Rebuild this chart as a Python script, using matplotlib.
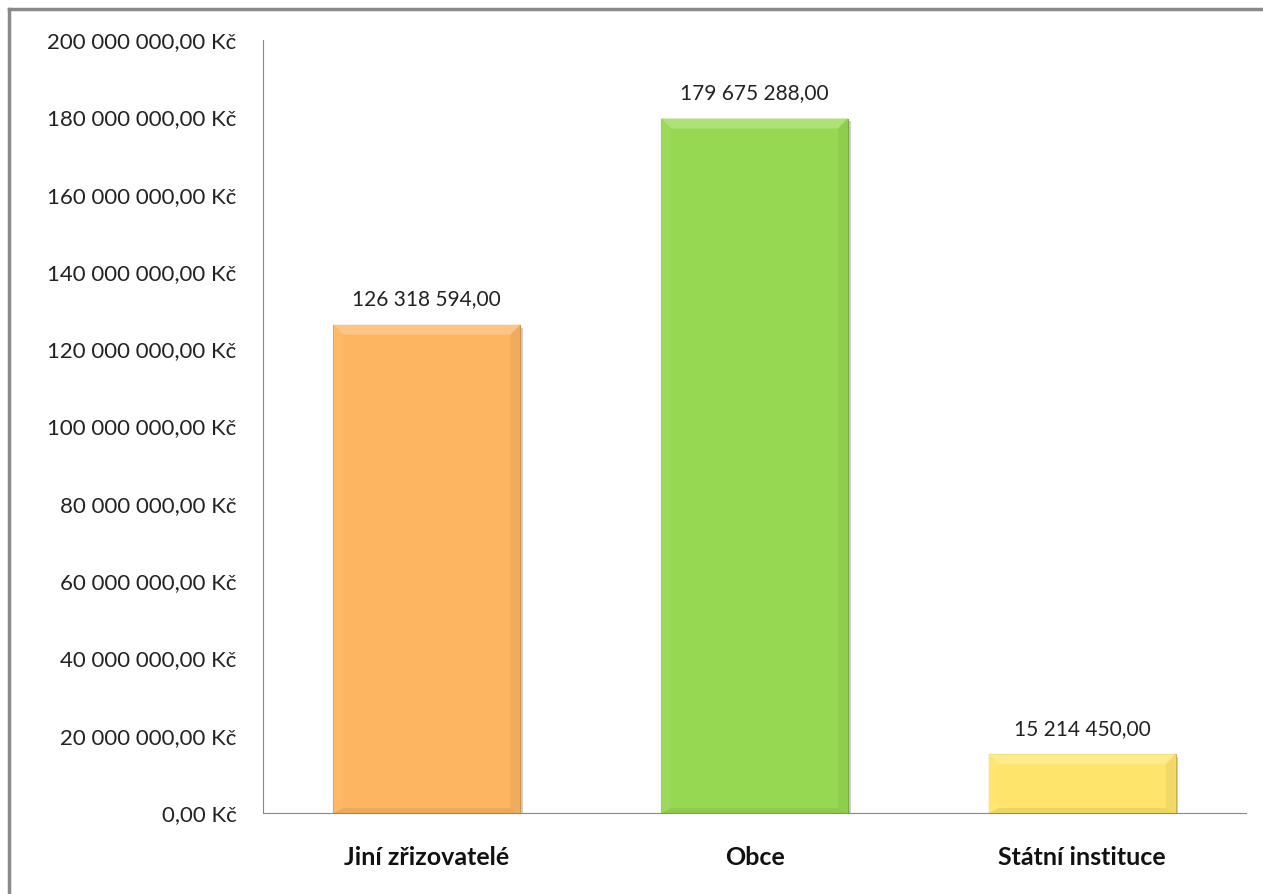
import matplotlib.pyplot as plt
from matplotlib.ticker import FuncFormatter
from matplotlib.lines import Line2D
from matplotlib.patches import Polygon
import matplotlib.colors as mcolors
import matplotlib.patheffects as pe

# Data
categories = ['Jiní zřizovatelé', 'Obce', 'Státní instituce']
values = [126318594.00, 179675288.00, 15214450.00]
bar_colors = ['#FDB562', '#97D852', '#FFE46B']
y_ticks = list(range(0, 200000001, 20000000))

plt.rcParams['font.family'] = ['Lato', 'DejaVu Sans']


def cz_number(v):
    # 126318594.0 -> "126 318 594,00"
    s = f'{v:,.2f}'
    return s.replace(',', ' ').replace('.', ',')


def kc_fmt(v, pos):
    return cz_number(v) + ' Kč'


def shade(c, f):
    # f > 0 lighter, f < 0 darker
    r, g, b = mcolors.to_rgb(c)
    if f > 0:
        return (r + (1 - r) * f, g + (1 - g) * f, b + (1 - b) * f)
    return (r * (1 + f), g * (1 + f), b * (1 + f))


fig = plt.figure(figsize=(12.63, 8.94), dpi=100)
ax = fig.add_axes([263 / 1263, 81 / 894, 983 / 1263, 773 / 894])
ax.set_xlim(-0.5, 2.5)
ax.set_ylim(0, 200000000)

x = range(len(categories))
bars = ax.bar(x, values, width=0.57, color=bar_colors,
              edgecolor=[shade(c, -0.22) for c in bar_colors],
              linewidth=0.8, zorder=3)
for b in bars:
    b.set_path_effects([pe.SimplePatchShadow(offset=(2, -2), alpha=0.25),
                        pe.Normal()])

# Excel-like bevel on each bar
dx = 0.03                  # bevel width in x units
dy = 200000000 * 10 / 773  # bevel height in y units
for b, c in zip(bars, bar_colors):
    x0, x1 = b.get_x(), b.get_x() + b.get_width()
    h = b.get_height()
    yb = dy * 0.5
    top = [(x0, h), (x1, h), (x1 - dx, h - dy), (x0 + dx, h - dy)]
    bot = [(x0, 0), (x1, 0), (x1 - dx, yb), (x0 + dx, yb)]
    lft = [(x0, 0), (x0, h), (x0 + dx, h - dy), (x0 + dx, yb)]
    rgt = [(x1, 0), (x1, h), (x1 - dx, h - dy), (x1 - dx, yb)]
    ax.add_patch(Polygon(top, closed=True, color=shade(c, 0.22), lw=0, zorder=4))
    ax.add_patch(Polygon(bot, closed=True, color=shade(c, -0.07), lw=0, zorder=4))
    ax.add_patch(Polygon(lft, closed=True, color=shade(c, 0.04), lw=0, zorder=4))
    ax.add_patch(Polygon(rgt, closed=True, color=shade(c, -0.05), lw=0, zorder=4))

for b, v in zip(bars, values):
    ax.annotate(cz_number(v), (b.get_x() + b.get_width() / 2, v),
                xytext=(0, 11), textcoords='offset points',
                ha='center', va='bottom', fontsize=15, color='#222222')

ax.set_yticks(y_ticks)
ax.yaxis.set_major_formatter(FuncFormatter(kc_fmt))
ax.set_xticks(list(x))
ax.set_xticklabels(categories, fontsize=18, fontweight='bold')

ax.tick_params(axis='y', length=0, pad=19, labelsize=16, colors='#222222')
ax.tick_params(axis='x', length=0, pad=24, colors='#111111')

for side in ['top', 'right']:
    ax.spines[side].set_visible(False)
ax.spines['left'].set_color('#888888')
ax.spines['bottom'].set_color('#888888')

# outer chart border (top and left visible)
fig.add_artist(Line2D([9 / 1263, 1.0], [1 - 9 / 894, 1 - 9 / 894],
                      transform=fig.transFigure, color='#8a8a8a', lw=2.5))
fig.add_artist(Line2D([9 / 1263, 9 / 1263], [0.0, 1 - 9 / 894],
                      transform=fig.transFigure, color='#8a8a8a', lw=2.5))

fig.savefig('out.png', dpi=100)
